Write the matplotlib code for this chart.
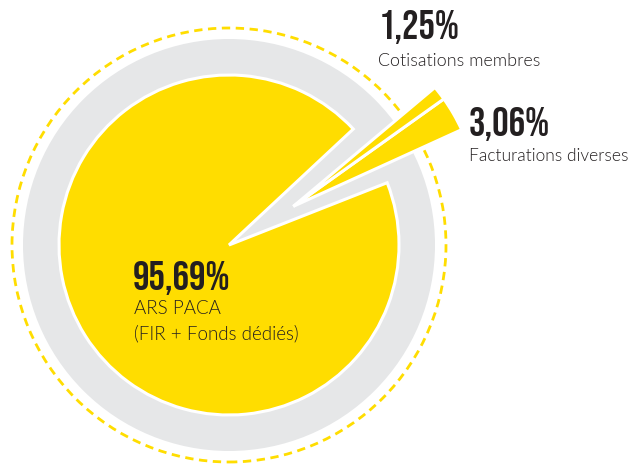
import matplotlib
matplotlib.use("Agg")
import matplotlib.pyplot as plt
from matplotlib.patches import Wedge, Circle
import numpy as np

# Data
categories = ["ARS PACA\n(FIR + Fonds dédiés)", "Cotisations membres", "Facturations diverses"]
values = [95.69, 1.25, 3.06]
pct_labels = ["95,69%", "1,25%", "3,06%"]

YELLOW = "#FFDD00"
GRAY = "#E6E7E8"
DARK = "#231F20"

W, H = 631, 466
fig = plt.figure(figsize=(W / 100, H / 100), dpi=100)
ax = fig.add_axes([0, 0, 1, 1])
ax.set_xlim(0, W)
ax.set_ylim(0, H)
ax.set_aspect("equal")
ax.axis("off")

cx, cy = 229, H - 245
R = 170
R_small = 185

# background ring and dashed circle
ax.add_patch(Circle((cx, cy), 217, fill=False, edgecolor=YELLOW, lw=2.0,
                    linestyle=(0, (3, 2)), zorder=1))
ax.add_patch(Circle((cx, cy), 206, facecolor=GRAY, edgecolor="none", zorder=2))

# slice angles from data
start = 24.5
fr = [v / sum(values) * 360 for v in values]
a_fact = (start, start + fr[2])
a_cot = (a_fact[1], a_fact[1] + fr[1])
a_main = (a_cot[1], a_cot[1] + fr[0])
pad = 3.0

ax.add_patch(Wedge((cx, cy), R, a_main[0] + pad, a_main[1] - pad,
                   facecolor=YELLOW, edgecolor="white", lw=2.2, zorder=3))

# exploded small slices
ex_ang = np.deg2rad(31)
ex_d = 75
ox, oy = cx + ex_d * np.cos(ex_ang), cy + ex_d * np.sin(ex_ang)
for (t1, t2) in (a_fact, a_cot):
    ax.add_patch(Wedge((ox, oy), R_small, t1, t2,
                       facecolor=YELLOW, edgecolor="white", lw=2.2, zorder=4))

big = dict(family=["Bebas Neue", "DejaVu Sans"], color=DARK, fontsize=29.5)
small = dict(family=["Lato", "DejaVu Sans"], weight=300, color=DARK)

# Main label
ax.text(133, H - 290, pct_labels[0], va="baseline", ha="left", **big, zorder=5)
ax.text(134, H - 314, "ARS PACA", va="baseline", ha="left", fontsize=13.5, **small, zorder=5)
ax.text(134, H - 339, "(FIR + Fonds dédiés)", va="baseline", ha="left", fontsize=13.5, **small, zorder=5)

# Cotisations
ax.text(379, H - 39, pct_labels[1], va="baseline", ha="left", **big, zorder=5)
ax.text(378, H - 66, categories[1], va="baseline", ha="left", fontsize=12.9, **small, zorder=5)

# Facturations
ax.text(469, H - 136, pct_labels[2], va="baseline", ha="left", **big, zorder=5)
ax.text(469, H - 161, categories[2], va="baseline", ha="left", fontsize=12.5, **small, zorder=5)

fig.savefig("out.png", dpi=100)
